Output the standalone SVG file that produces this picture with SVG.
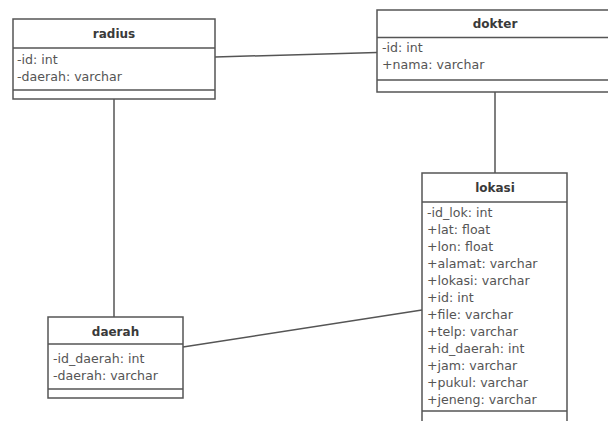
<svg xmlns="http://www.w3.org/2000/svg" width="608" height="421" viewBox="0 0 608 421">
<style>
.box{fill:#fff;stroke:#555;stroke-width:1.5}
.div{stroke:#555;stroke-width:1.5}
.conn{stroke:#555;stroke-width:1.5;fill:none}
.t{font-family:"DejaVu Sans",sans-serif;font-size:12px;font-weight:bold;fill:#3a3a3a;text-anchor:middle}
.a{font-family:"DejaVu Sans",sans-serif;font-size:12.6px;fill:#555}
</style>
<rect x="0" y="0" width="608" height="421" fill="#fff"/>
<g id="connectors">
<line class="conn" x1="215" y1="57" x2="377" y2="52.5"/>
<line class="conn" x1="114" y1="99" x2="114" y2="317"/>
<line class="conn" x1="495" y1="92" x2="495" y2="173"/>
<line class="conn" x1="183" y1="347" x2="422" y2="310"/>
</g>
<g id="radius">
<rect class="box" x="13" y="19" width="202" height="80"/>
<line class="div" x1="13" y1="48" x2="215" y2="48"/>
<line class="div" x1="13" y1="90" x2="215" y2="90"/>
<text class="t" x="114" y="38">radius</text>
<text class="a" x="17" y="64">-id: int</text>
<text class="a" x="17" y="81">-daerah: varchar</text>
</g>
<g id="dokter">
<rect class="box" x="377" y="10" width="236" height="82"/>
<line class="div" x1="377" y1="37.5" x2="613" y2="37.5"/>
<line class="div" x1="377" y1="80" x2="613" y2="80"/>
<text class="t" x="495" y="28">dokter</text>
<text class="a" x="382" y="52">-id: int</text>
<text class="a" x="382" y="69">+nama: varchar</text>
</g>
<g id="lokasi">
<rect class="box" x="422" y="173" width="145" height="260"/>
<line class="div" x1="422" y1="202" x2="567" y2="202"/>
<line class="div" x1="422" y1="411" x2="567" y2="411"/>
<text class="t" x="495" y="192">lokasi</text>
<text class="a" x="427" y="217">-id_lok: int</text>
<text class="a" x="427" y="234">+lat: float</text>
<text class="a" x="427" y="251">+lon: float</text>
<text class="a" x="427" y="268">+alamat: varchar</text>
<text class="a" x="427" y="285">+lokasi: varchar</text>
<text class="a" x="427" y="302">+id: int</text>
<text class="a" x="427" y="319">+file: varchar</text>
<text class="a" x="427" y="336">+telp: varchar</text>
<text class="a" x="427" y="353">+id_daerah: int</text>
<text class="a" x="427" y="370">+jam: varchar</text>
<text class="a" x="427" y="387">+pukul: varchar</text>
<text class="a" x="427" y="404">+jeneng: varchar</text>
</g>
<g id="daerah">
<rect class="box" x="48" y="317" width="135" height="81"/>
<line class="div" x1="48" y1="344" x2="183" y2="344"/>
<line class="div" x1="48" y1="389" x2="183" y2="389"/>
<text class="t" x="115.5" y="336">daerah</text>
<text class="a" x="53" y="363">-id_daerah: int</text>
<text class="a" x="53" y="380">-daerah: varchar</text>
</g>
</svg>
